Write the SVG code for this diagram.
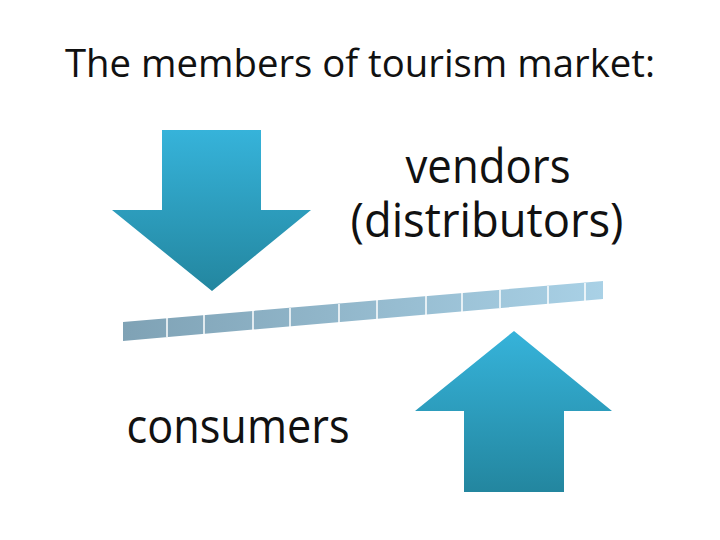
<svg xmlns="http://www.w3.org/2000/svg" width="720" height="540" viewBox="0 0 720 540">
<defs>
<linearGradient id="ag" x1="0" y1="0" x2="0" y2="1">
<stop offset="0" stop-color="#36b3da"/>
<stop offset="1" stop-color="#23869f"/>
</linearGradient>
<linearGradient id="bg" x1="0" y1="0" x2="1" y2="0">
<stop offset="0" stop-color="#7fa2b5"/>
<stop offset="1" stop-color="#a9d1e6"/>
</linearGradient>
<style>
text{font-family:"Open Sans","Liberation Sans",sans-serif;fill:#111;text-anchor:middle}
.sep{stroke:#fff;stroke-width:1.5}
</style>
</defs>
<rect width="720" height="540" fill="#fff"/>
<text x="360" y="77" font-size="38" textLength="590" lengthAdjust="spacingAndGlyphs">The members of tourism market:</text>
<g id="down-arrow">
<polygon points="162,130 261,130 261,210 311,210 212,291 112,210 162,210" fill="url(#ag)"/>
</g>
<g id="up-arrow">
<polygon points="514,331 612,411 564,411 564,492 464,492 464,411 415,411" fill="url(#ag)"/>
</g>
<g id="bar">
<polygon points="123,322 603,281 603,299 123,341" fill="url(#bg)"/>
<g class="sep">
<line x1="167" y1="318" x2="167" y2="337"/>
<line x1="204" y1="315" x2="204" y2="334"/>
<line x1="253" y1="311" x2="253" y2="330"/>
<line x1="290" y1="308" x2="290" y2="327"/>
<line x1="339" y1="304" x2="339" y2="323"/>
<line x1="377" y1="300" x2="377" y2="319"/>
<line x1="426" y1="296" x2="426" y2="315"/>
<line x1="462" y1="293" x2="462" y2="312"/>
<line x1="500" y1="290" x2="500" y2="308"/>
<line x1="548" y1="286" x2="548" y2="304"/>
<line x1="585" y1="283" x2="585" y2="301"/>
</g>
</g>
<g id="vendors">
<text x="488" y="183" font-size="47" textLength="165" lengthAdjust="spacingAndGlyphs">vendors</text>
<text x="487" y="237" font-size="47" textLength="273" lengthAdjust="spacingAndGlyphs">(distributors)</text>
</g>
<g id="consumers">
<text x="238" y="443" font-size="47" textLength="223" lengthAdjust="spacingAndGlyphs">consumers</text>
</g>
</svg>
